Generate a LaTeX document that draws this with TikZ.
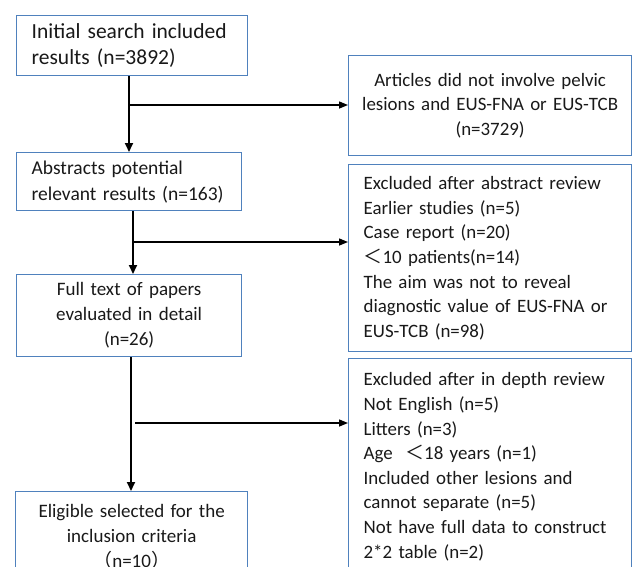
\documentclass[tikz,border=0pt]{standalone}
\usepackage{fontspec}
\setmainfont{Carlito}
\newfontfamily\cjk{Noto Sans CJK SC}
\usetikzlibrary{arrows.meta}
\definecolor{boxblue}{RGB}{79,129,189}
\definecolor{txt}{RGB}{25,25,25}
\begin{document}
\begin{tikzpicture}[x=1pt,y=-1pt,
  box/.style={draw=boxblue,line width=1.3pt,inner xsep=15pt,inner ysep=0pt,anchor=north west,
    font=\fontsize{19}{25}\selectfont,text=txt},
  rbox/.style={box,font=\fontsize{18.9}{24.6}\selectfont},
  arr/.style={line width=1.8pt,-{Triangle[length=9pt,width=8pt]}},
  harr/.style={line width=1.4pt,-{Triangle[length=9pt,width=7pt]}}]
\useasboundingbox (0,0) rectangle (632,566);
\clip (0,0) rectangle (632,566);
\fill[white] (0,0) rectangle (632,566);

\node[box,align=left,text width=201pt,minimum height=60pt,
  font=\fontsize{21.5}{25.5}\selectfont] (b1) at (16,15)
  {Initial search included\\results (n=3892)};
\node[box,align=left,text width=195pt,minimum height=58pt,
  font=\fontsize{19.5}{26}\selectfont] (b2) at (16,152)
  {Abstracts potential\\relevant results (n=163)};
\node[box,align=center,text width=195pt,minimum height=82pt] (b3) at (16,274)
  {Full text of papers\\evaluated in detail\\(n=26)};
\node[box,align=center,text width=202pt,minimum height=90pt] (b4) at (15,491)
  {Eligible selected for the\\inclusion criteria\\{\cjk （}n=10{\cjk ）}};

\node[rbox,align=center,inner xsep=5pt,text width=273pt,minimum height=100pt] (r1) at (348,55)
  {Articles did not involve pelvic\\lesions and EUS-FNA or EUS-TCB\\(n=3729)};
\node[rbox,align=left,text width=253pt,minimum height=187pt] (r2) at (348,164)
  {Excluded after abstract review\\Earlier studies (n=5)\\Case report (n=20)\\{\cjk ＜}10 patients(n=14)\\The aim was not to reveal\\diagnostic value of EUS-FNA or\\EUS-TCB (n=98)};
\node[rbox,align=left,text width=253pt,minimum height=216pt] (r3) at (348,358)
  {Excluded after in depth review\\Not English (n=5)\\Litters (n=3)\\Age\ \ {\cjk ＜}18 years (n=1)\\Included other lesions and\\cannot separate (n=5)\\Not have full data to construct\\2*2 table (n=2)};

\coordinate (j1) at (129,105);
\draw[arr] (b1.south -| j1) -- (b2.north -| j1);
\draw[harr] (j1) -- (r1.west |- j1);
\coordinate (j2) at (133,242);
\draw[arr] (b2.south -| j2) -- (b3.north -| j2);
\draw[harr] (j2) -- (r2.west |- j2);
\coordinate (j3) at (131,423);
\coordinate (k3) at (135,423);
\draw[arr] (b3.south -| j3) -- (b4.north -| j3);
\draw[harr] (k3) -- (r3.west |- k3);
\end{tikzpicture}
\end{document}
